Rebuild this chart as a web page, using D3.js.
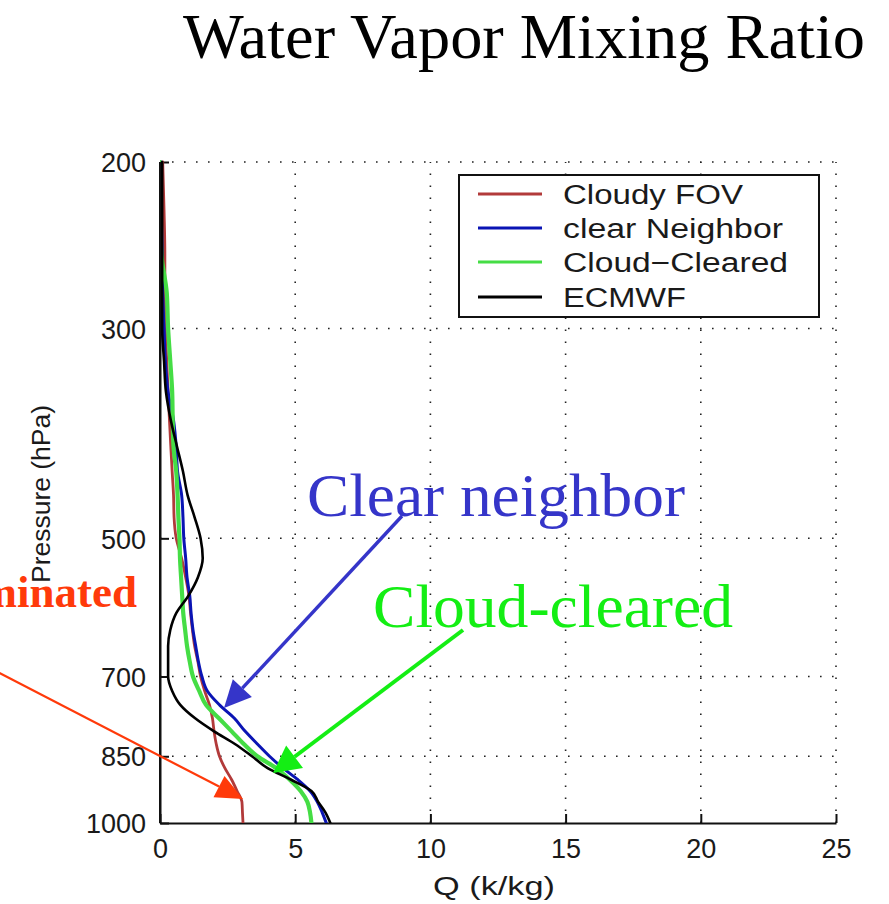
<!DOCTYPE html>
<html>
<head>
<meta charset="utf-8">
<script src="https://cdn.jsdelivr.net/npm/d3@7"></script>
<style>
  html, body { margin: 0; padding: 0; background: #ffffff; }
  svg { display: block; }
</style>
</head>
<body>
<svg id="chart" width="889" height="904"></svg>
<script>
// Pressure levels (hPa) shared by every profile
const levels = [200, 225, 250, 275, 300, 325, 350, 375, 400, 425, 450, 475, 500,
                525, 550, 575, 600, 625, 650, 675, 700, 725, 750, 775, 800,
                825, 850, 875, 900, 925, 950, 975, 1000];

// Water vapor mixing ratio profiles
const cloudyFOV = [0.10, 0.15, 0.18, 0.18, 0.20, 0.25, 0.30, 0.35, 0.40, 0.45, 0.50, 0.52, 0.60,
                   0.80, 0.95, 1.07, 1.13, 1.20, 1.28, 1.40, 1.50, 1.65, 1.83, 1.94, 2.00,
                   2.08, 2.20, 2.40, 2.65, 2.85, 3.03, 3.05, 3.07];
const clearNeighbor = [0.05, 0.05, 0.08, 0.10, 0.15, 0.20, 0.30, 0.50, 0.60, 0.65, 0.80, 0.85, 0.88,
                       0.95, 1.00, 1.10, 1.15, 1.22, 1.32, 1.42, 1.55, 1.75, 2.20, 2.75, 3.15,
                       3.60, 4.05, 4.55, 5.10, 5.55, 5.82, 6.00, 6.15];
const cloudCleared = [0.00, 0.00, 0.05, 0.25, 0.30, 0.38, 0.45, 0.47, 0.50, 0.60, 0.65, 0.68, 0.72,
                      0.74, 0.78, 0.82, 0.86, 0.93, 1.00, 1.10, 1.22, 1.45, 1.70, 2.18, 2.65,
                      3.10, 3.60, 4.30, 4.80, 5.20, 5.45, 5.55, 5.60];
const ecmwf = [0.08, 0.08, 0.08, 0.08, 0.08, 0.15, 0.22, 0.40, 0.63, 0.85, 1.02, 1.28, 1.50,
               1.58, 1.40, 1.05, 0.60, 0.38, 0.30, 0.30, 0.30, 0.45, 0.75, 1.30, 2.00,
               2.77, 3.40, 3.98, 4.85, 5.60, 5.85, 6.12, 6.30];

const seriesNames = ["Cloudy FOV", "clear Neighbor", "Cloud\u2212Cleared", "ECMWF"];
const seriesColors = ["#b23a3a", "#0a14b4", "#45dd45", "#000000"];
const seriesWidths = [2.8, 3, 4.2, 2.6];

const xTicks = [0, 5, 10, 15, 20, 25];
const pTicks = [200, 300, 500, 700, 850, 1000];

const svg = d3.select("#chart");
const W = 889, H = 904;
const plot = { left: 160, right: 836, top: 162, bottom: 823 };

const x = d3.scaleLinear().domain([0, 25]).range([plot.left, plot.right]);
const y = d3.scaleLog().domain([200, 1000]).range([plot.top, plot.bottom]);

const axisFont = "'Liberation Sans', Arial, Helvetica, sans-serif";
const serifFont = "'Liberation Serif', 'Times New Roman', Times, serif";

// Title
svg.append("text")
  .attr("x", 183).attr("y", 58)
  .attr("font-family", serifFont)
  .attr("font-size", 63)
  .attr("textLength", 682)
  .attr("lengthAdjust", "spacingAndGlyphs")
  .attr("fill", "#000")
  .text("Water Vapor Mixing Ratio");

// Dotted grid
const grid = svg.append("g").attr("stroke", "#222").attr("stroke-width", 1.6)
  .attr("stroke-dasharray", "1.6,10.4").attr("fill", "none");
xTicks.filter(d => d > 0).forEach(d => {
  grid.append("line").attr("x1", x(d)).attr("x2", x(d))
    .attr("y1", plot.bottom).attr("y2", plot.top);
});
pTicks.filter(d => d < 1000).forEach(d => {
  grid.append("line").attr("x1", plot.left).attr("x2", plot.right)
    .attr("y1", y(d)).attr("y2", y(d));
});

// Axes (left and bottom only, ticks pointing inward)
const xAxis = d3.axisBottom(x).tickValues(xTicks).tickSizeInner(-9).tickSizeOuter(0)
  .tickPadding(16).tickFormat(d3.format("d"));
const yAxis = d3.axisLeft(y).tickValues(pTicks).tickSizeInner(-9).tickSizeOuter(0)
  .tickPadding(14).tickFormat(d3.format("d"));

const gx = svg.append("g").attr("transform", `translate(0,${plot.bottom})`).call(xAxis);
const gy = svg.append("g").attr("transform", `translate(${plot.left},0)`).call(yAxis);
[gx, gy].forEach(g => {
  g.select(".domain").attr("stroke", "#111").attr("stroke-width", 2);
  g.selectAll(".tick line").attr("stroke", "#111").attr("stroke-width", 2);
  g.selectAll(".tick text").attr("font-family", axisFont).attr("font-size", 27)
    .attr("fill", "#1a1a1a");
});
gx.selectAll(".tick text").attr("dy", "0.71em");
gy.selectAll(".tick text").attr("dy", "0.36em");

// Axis labels
svg.append("text")
  .attr("x", 494).attr("y", 895)
  .attr("text-anchor", "middle")
  .attr("font-family", axisFont).attr("font-size", 26)
  .attr("textLength", 122).attr("lengthAdjust", "spacingAndGlyphs")
  .attr("fill", "#1a1a1a")
  .text("Q (k/kg)");
svg.append("text")
  .attr("transform", "translate(50,494) rotate(-90)")
  .attr("text-anchor", "middle")
  .attr("font-family", axisFont).attr("font-size", 25)
  .attr("textLength", 178).attr("lengthAdjust", "spacingAndGlyphs")
  .attr("fill", "#1a1a1a")
  .text("Pressure (hPa)");

// Profiles
const profiles = [cloudyFOV, clearNeighbor, cloudCleared, ecmwf];
const line = d3.line()
  .x(d => x(d[0]))
  .y(d => y(d[1]))
  .curve(d3.curveMonotoneY);

const clip = svg.append("clipPath").attr("id", "plotclip");
clip.append("rect").attr("x", plot.left).attr("y", plot.top - 3)
  .attr("width", plot.right - plot.left).attr("height", plot.bottom - plot.top + 3);

const lines = svg.append("g").attr("clip-path", "url(#plotclip)");
profiles.forEach((vals, i) => {
  const pts = vals.map((v, k) => [v, levels[k]]);
  lines.append("path")
    .datum(pts)
    .attr("d", line)
    .attr("fill", "none")
    .attr("stroke", seriesColors[i])
    .attr("stroke-width", seriesWidths[i])
    .attr("stroke-linejoin", "round")
    .attr("stroke-linecap", "round");
});

// Re-draw the left axis line over the profiles
svg.append("line").attr("x1", plot.left).attr("x2", plot.left)
  .attr("y1", plot.top).attr("y2", plot.bottom)
  .attr("stroke", "#111").attr("stroke-width", 2);

// Legend
const legend = svg.append("g");
legend.append("rect")
  .attr("x", 459).attr("y", 175).attr("width", 360).attr("height", 142)
  .attr("fill", "#fff").attr("stroke", "#111").attr("stroke-width", 2);
const legendRows = [194, 228, 262, 297];
const legendWidths = [180, 220, 225, 123];
seriesNames.forEach((name, i) => {
  legend.append("line")
    .attr("x1", 478).attr("x2", 542)
    .attr("y1", legendRows[i]).attr("y2", legendRows[i])
    .attr("stroke", seriesColors[i]).attr("stroke-width", 3.2);
  legend.append("text")
    .attr("x", 563).attr("y", legendRows[i] + 10)
    .attr("font-family", axisFont).attr("font-size", 27)
    .attr("textLength", legendWidths[i]).attr("lengthAdjust", "spacingAndGlyphs")
    .attr("fill", "#1a1a1a")
    .text(name);
});

// Annotation arrows
function arrow(x1, y1, x2, y2, color, width, headLen, headHalf) {
  const ang = Math.atan2(y2 - y1, x2 - x1);
  const bx = x2 - headLen * Math.cos(ang), by = y2 - headLen * Math.sin(ang);
  const nx = -Math.sin(ang), ny = Math.cos(ang);
  svg.append("line")
    .attr("x1", x1).attr("y1", y1).attr("x2", bx).attr("y2", by)
    .attr("stroke", color).attr("stroke-width", width);
  svg.append("path")
    .attr("d", `M${x2},${y2} L${bx + nx * headHalf},${by + ny * headHalf} L${bx - nx * headHalf},${by - ny * headHalf} Z`)
    .attr("fill", color);
}

const blueNote = "#3535c9", greenNote = "#14ee14", redNote = "#ff3a0a";

svg.append("text")
  .attr("x", 307).attr("y", 516)
  .attr("font-family", serifFont).attr("font-size", 62)
  .attr("textLength", 378).attr("lengthAdjust", "spacingAndGlyphs")
  .attr("fill", blueNote)
  .text("Clear neighbor");
svg.append("text")
  .attr("x", 373).attr("y", 627)
  .attr("font-family", serifFont).attr("font-size", 62)
  .attr("textLength", 360).attr("lengthAdjust", "spacingAndGlyphs")
  .attr("fill", greenNote)
  .text("Cloud-cleared");
svg.append("text")
  .attr("x", 137).attr("y", 607)
  .attr("text-anchor", "end")
  .attr("font-family", serifFont).attr("font-size", 45).attr("font-weight", "bold")
  .attr("fill", redNote)
  .text("Contaminated");

arrow(402, 516, 224, 708, blueNote, 3.4, 27, 13);
arrow(463, 630, 273, 773, greenNote, 4, 27, 14);
arrow(-10, 668, 243, 799, redNote, 2.2, 27, 12);
</script>
</body>
</html>
